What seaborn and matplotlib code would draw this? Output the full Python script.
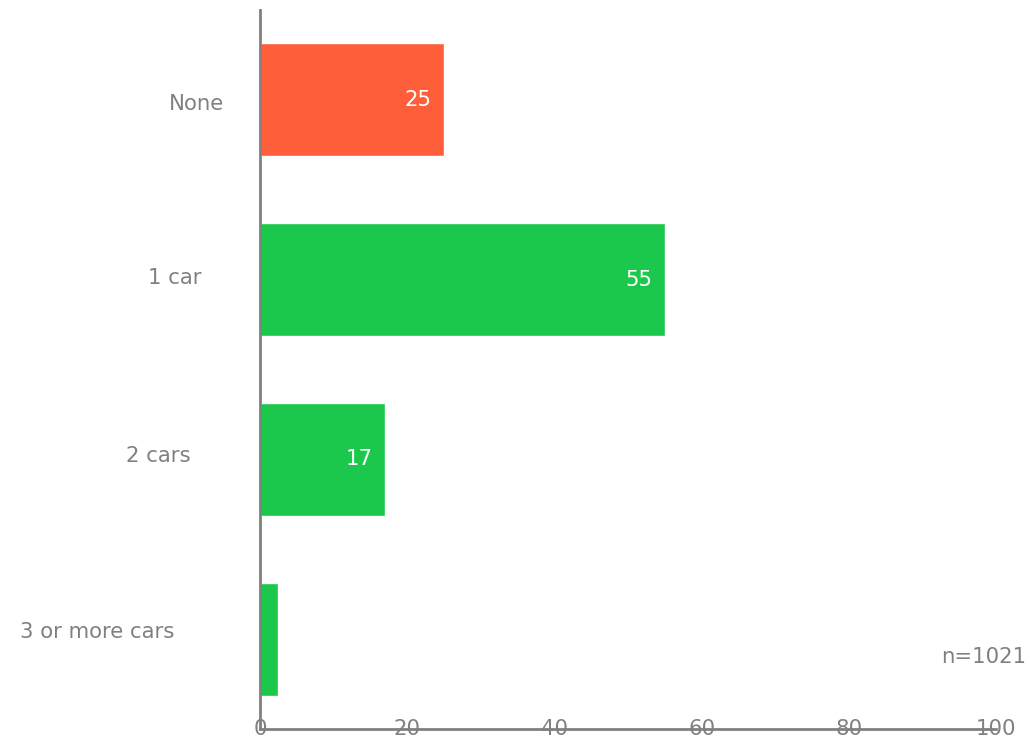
import matplotlib
matplotlib.use("Agg")
import matplotlib.pyplot as plt
import matplotlib.transforms as mtransforms
import seaborn as sns

# Household car ownership (%)
categories = ["None", "1 car", "2 cars", "3 or more cars"]
shares = [25, 55, 17, 2.4]
value_labels = ["25", "55", "17", ""]
bar_colors = ["#FF5E3A", "#1CC84B", "#1CC84B", "#1CC84B"]
x_ticks = [0, 20, 40, 60, 80, 100]
sample_note = "n=1021"

GREY = "#808080"
FS = 15.3

sns.set_theme(style="white")
plt.rcParams["font.family"] = ["DejaVu Sans"]

fig = plt.figure(figsize=(10.30, 7.38), dpi=100)
ax = fig.add_axes([260 / 1030, 9 / 738, 736 / 1030, 719 / 738])

sns.barplot(x=shares, y=categories, hue=categories, palette=bar_colors,
            orient="h", width=0.63, legend=False, saturation=1, ax=ax)

ax.set_xlim(0, 100)
ax.set_ylim(3.5, -0.5)
ax.set_xticks(x_ticks)
ax.set_xticklabels([str(t) for t in x_ticks])
ax.tick_params(axis="x", length=0, pad=0, labelsize=FS, labelcolor=GREY)
for lab in ax.get_xticklabels():
    lab.set_verticalalignment("center")
ax.set_yticks([])
ax.set_xlabel("")
ax.set_ylabel("")

for side in ("top", "right"):
    ax.spines[side].set_visible(False)
for side in ("left", "bottom"):
    ax.spines[side].set_color(GREY)
    ax.spines[side].set_linewidth(2)
    ax.spines[side].set_zorder(5)

# category labels, each set a little apart from the axis
label_right_px = [224, 201, 191, 174]
label_dy_px = [-4, 2, 3, 7]
for i, (name, rx, dy) in enumerate(zip(categories, label_right_px, label_dy_px)):
    tr = mtransforms.blended_transform_factory(ax.transAxes, ax.transData)
    off = mtransforms.offset_copy(tr, fig=fig, x=0, y=dy * 0.72, units="points")
    ax.text((rx - 260) / 736, i, name, transform=off, ha="right", va="center",
            fontsize=FS, color=GREY)

# value labels inside the bar ends
for i, (v, lab) in enumerate(zip(shares, value_labels)):
    if lab:
        ax.annotate(lab, xy=(v, i), xytext=(-9, 0), textcoords="offset points",
                    ha="right", va="center", fontsize=FS, color="white")

fig.text(1026 / 1030, 1 - 657 / 738, sample_note, ha="right", va="center",
         fontsize=FS, color=GREY)

fig.savefig("out.png", dpi=100)
